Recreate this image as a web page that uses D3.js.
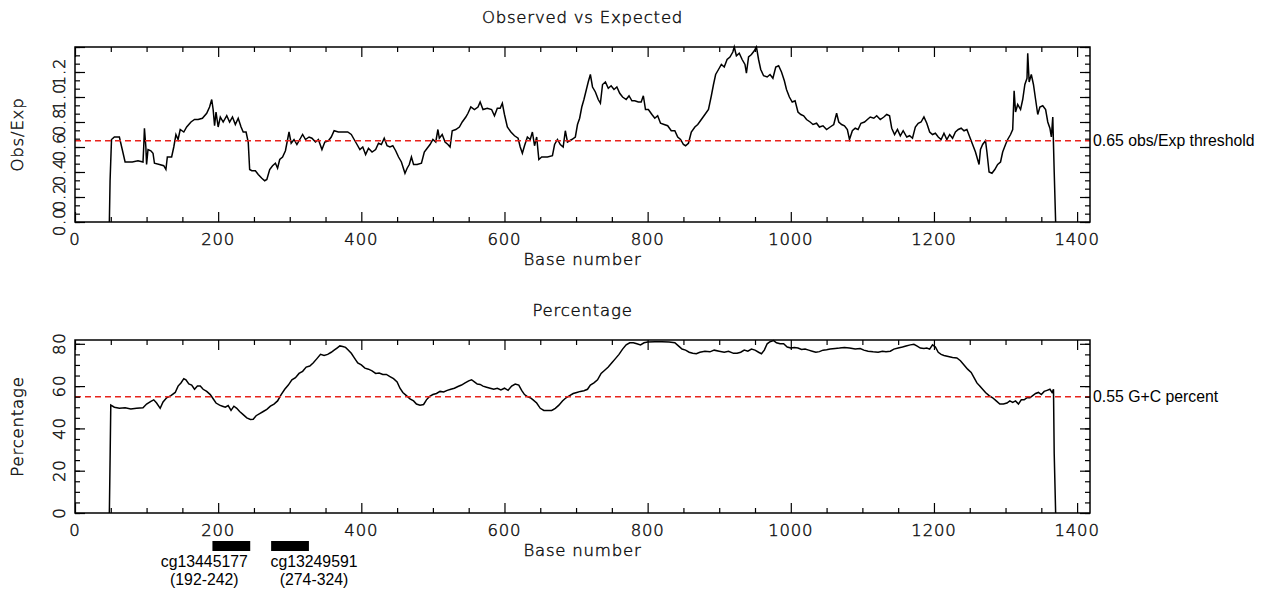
<!DOCTYPE html>
<html><head><meta charset="utf-8">
<script src="https://cdn.jsdelivr.net/npm/d3@7"></script>
<style>
html,body{margin:0;padding:0;background:#fff;}
svg{display:block;}
.idl{font-family:"DejaVu Sans",sans-serif;font-size:16.5px;letter-spacing:0.8px;fill:#111;stroke:#111;stroke-width:0.45px;font-weight:200;}
.ann{font-family:"Liberation Sans",Arial,sans-serif;font-size:15.8px;fill:#000;}
</style>
</head><body>
<script>
// ---------- data ----------
const xTickValues = [0,200,400,600,800,1000,1200,1400];
const xTickLabels = ["0","200","400","600","800","1000","1200","1400"];
const oeTickValues = [0,0.2,0.4,0.6,0.8,1.0,1.2];
const oeTickLabels = ["0.0","0.2","0.4","0.6","0.8","1.0","1.2"];
const gcTickValues = [0,20,40,60,80];
const gcTickLabels = ["0","20","40","60","80"];

const oeThreshold = 0.65;
const gcThreshold = 55;
const oeThresholdLabel = "0.65 obs/Exp threshold";
const gcThresholdLabel = "0.55 G+C percent";

const probeNames = ["cg13445177","cg13249591"];
const probeStart = [192,274];
const probeEnd = [242,324];

const oeBase = [48,49,51,55,62,66,70,80,88,95,96,97,99,100,102,106,109,111,118,124,127,129,135,138,141,144,147,152,156,162,167,172,178,184,188,191,193,195,197,200,203,207,212,216,220,224,228,232,235,239,242,244,247,252,256,261,265,268,272,276,280,283,286,290,294,297,299,302,306,310,314,318,322,327,331,336,340,345,349,354,358,362,368,375,381,386,390,394,398,402,406,410,415,420,424,428,432,436,440,444,448,452,456,461,464,467,470,473,478,484,488,492,496,500,504,507,509,513,517,521,524,527,532,537,541,546,549,553,558,563,566,570,576,582,586,590,594,597,600,604,609,614,619,622,625,628,632,636,639,642,645,648,652,660,667,670,674,678,682,685,688,694,699,702,705,708,711,714,717,720,723,727,731,734,737,741,745,749,753,757,761,765,770,774,778,782,787,791,794,797,801,806,810,814,818,823,828,833,838,842,846,850,853,857,861,866,870,875,880,885,889,892,895,899,903,907,911,915,919,921,924,928,932,936,938,941,945,949,952,955,958,962,967,971,975,979,983,987,991,994,998,1002,1006,1010,1014,1018,1022,1027,1031,1036,1040,1045,1050,1055,1060,1064,1067,1071,1075,1079,1082,1086,1090,1094,1098,1103,1107,1111,1116,1120,1125,1130,1134,1138,1141,1145,1149,1153,1157,1162,1166,1170,1174,1178,1182,1186,1190,1194,1198,1202,1206,1210,1214,1218,1222,1226,1230,1234,1238,1242,1246,1250,1254,1258,1261,1263,1265,1268,1272,1274,1277,1281,1285,1289,1293,1296,1300,1303,1307,1310,1312,1314,1317,1321,1324,1327,1330,1331,1333,1336,1339,1342,1345,1348,1352,1356,1359,1362,1364,1366,1368,1370];
const oeValue = [0,0.33,0.66,0.68,0.68,0.58,0.48,0.48,0.49,0.48,0.60,0.75,0.60,0.46,0.58,0.57,0.55,0.47,0.46,0.45,0.42,0.52,0.52,0.60,0.70,0.66,0.74,0.72,0.76,0.80,0.82,0.82,0.83,0.87,0.92,0.98,0.90,0.77,0.88,0.76,0.84,0.80,0.85,0.80,0.84,0.78,0.83,0.76,0.72,0.72,0.64,0.42,0.41,0.41,0.38,0.35,0.33,0.34,0.42,0.45,0.47,0.43,0.50,0.52,0.57,0.66,0.72,0.63,0.66,0.62,0.66,0.70,0.66,0.68,0.67,0.64,0.66,0.58,0.64,0.65,0.68,0.73,0.72,0.72,0.72,0.70,0.66,0.62,0.58,0.60,0.54,0.59,0.56,0.58,0.63,0.62,0.67,0.61,0.60,0.61,0.57,0.52,0.48,0.39,0.43,0.46,0.52,0.46,0.46,0.47,0.56,0.59,0.62,0.66,0.64,0.74,0.67,0.70,0.64,0.62,0.60,0.73,0.74,0.76,0.80,0.84,0.87,0.92,0.90,0.92,0.96,0.90,0.91,0.90,0.85,0.91,0.91,0.95,0.86,0.76,0.72,0.69,0.67,0.60,0.55,0.61,0.68,0.66,0.72,0.61,0.68,0.50,0.52,0.52,0.53,0.62,0.66,0.62,0.60,0.73,0.64,0.66,0.68,0.78,0.83,0.92,0.98,1.05,1.12,1.18,1.08,1.04,0.98,0.95,1.10,1.12,1.07,1.09,1.06,1.08,1.03,1.00,0.98,1.01,0.97,0.97,0.96,0.96,1.01,0.90,0.90,0.86,0.83,0.85,0.79,0.78,0.77,0.73,0.73,0.68,0.66,0.62,0.61,0.63,0.72,0.76,0.78,0.82,0.86,0.90,1.01,1.10,1.18,1.22,1.26,1.24,1.30,1.32,1.36,1.40,1.33,1.35,1.30,1.26,1.19,1.32,1.34,1.37,1.40,1.30,1.22,1.17,1.16,1.18,1.15,1.24,1.25,1.20,1.13,1.06,1.00,0.96,0.97,0.88,0.86,0.85,0.82,0.80,0.78,0.79,0.76,0.77,0.74,0.76,0.78,0.87,0.80,0.78,0.77,0.74,0.66,0.73,0.75,0.74,0.79,0.80,0.82,0.84,0.83,0.85,0.82,0.84,0.86,0.85,0.75,0.70,0.74,0.69,0.73,0.68,0.69,0.67,0.76,0.79,0.80,0.84,0.79,0.72,0.70,0.71,0.68,0.66,0.71,0.66,0.70,0.67,0.72,0.74,0.75,0.73,0.74,0.68,0.62,0.56,0.50,0.46,0.58,0.62,0.65,0.56,0.40,0.39,0.42,0.46,0.48,0.56,0.62,0.66,0.70,0.74,1.05,0.88,0.94,0.90,0.98,1.10,1.15,1.35,1.12,1.18,1.10,0.98,0.86,0.92,0.93,0.90,0.80,0.75,0.68,0.84,0.40,0.0];

const gcBase = [48,49,50,55,62,70,78,86,95,100,106,110,114,119,123,128,134,140,144,148,152,155,159,163,167,171,175,179,184,189,193,197,202,206,210,214,218,222,226,230,235,240,245,249,253,258,263,268,273,278,283,288,293,298,303,308,313,318,323,328,333,338,343,348,353,358,362,366,370,374,378,382,386,390,395,400,405,410,415,420,425,430,435,440,445,450,454,458,463,468,473,477,482,487,491,495,500,505,510,515,520,525,530,535,540,545,550,554,558,562,566,570,575,580,585,590,595,600,605,610,615,620,624,628,632,636,640,645,650,655,660,666,671,676,681,686,691,696,701,706,711,716,720,725,730,735,740,745,750,755,760,765,770,775,780,785,790,795,800,810,820,830,838,843,848,853,858,863,868,873,880,887,893,900,907,913,920,925,930,935,940,945,950,955,959,963,967,971,976,980,985,990,995,1000,1005,1010,1015,1020,1025,1030,1035,1040,1045,1050,1055,1062,1068,1075,1082,1090,1097,1102,1108,1115,1122,1128,1133,1139,1144,1150,1156,1161,1167,1172,1176,1181,1186,1190,1194,1198,1202,1206,1210,1214,1220,1226,1232,1237,1242,1247,1252,1256,1260,1264,1268,1272,1277,1282,1287,1292,1297,1302,1306,1310,1314,1318,1322,1326,1330,1334,1338,1342,1346,1350,1354,1358,1362,1365,1367,1368,1370];
const gcValue = [0,25,51,50,49.5,49.8,49.2,49.5,49.8,51.5,52.8,53.5,52,49.5,52.5,54.5,55.5,57,60,61.5,63.5,63,61,60.5,58.5,60,60,58.5,57.5,56,54,52,51,50.5,50,50.8,48.5,50.5,49.5,48,46.5,45,44.2,44.3,46,47,48,49,50.5,51.5,53,56,58.5,60.5,63,64,66,67,69,69.5,71,73,75,74.5,75,76,77,78,79,78.7,78.3,77,75.5,73.5,71,70,68.5,68,67.2,66,66.2,65.5,65.5,64.5,63.5,62,59,57,55.5,54,53,51.5,51,51.3,53.5,55,56,56.5,57.5,57.2,58,58.5,59,59.8,60.5,61.5,62.5,63,62,61,60.8,60,59.5,59,58.5,59,58.2,59,58,60,61,60.5,58,56,55,54.5,53.5,52,49.5,48.5,48.5,48.5,49.5,51,53,54.5,55.5,56.5,57,57.5,57.8,58.5,60.5,61.5,63,66,67.5,69,71,73,75,77.5,79.5,80.5,80.5,80,79.5,80.5,80.8,81,81,80.8,80.5,79,77.5,77,76,75.5,75.3,76,76.5,76.2,77,76.5,76,76.5,75.5,75.5,76,77,76.5,77.5,77,76,75.3,77,80,81,81.5,80.5,80,80,78.5,78,78.2,78,77.3,77.5,77,76.5,76,76.3,77,77.2,77.5,77.8,78,78.3,78,77.5,77.8,77,76.5,76.2,76,76.5,76.2,76.5,77.5,78,78.5,79,79.5,79.8,79,78,77.8,78,77.5,79.5,78.5,76,75,74.5,74,73.5,73.3,72,70,68,66.5,64,61.5,60,58.5,57,55.5,54.5,53,51.5,51.5,52,53,52.3,53,51.5,53.5,53.5,54.5,54.5,55.5,56.5,57,56,57.5,58,58.5,57,58.5,28,0];

// ---------- layout ----------
const W = 1269, H = 591;
const L = 75, R = 1090;
const panels = [
  {top:47, bottom:222, title:"Observed vs Expected", ytitle:"Obs/Exp",
   base:oeBase, value:oeValue, domain:[0,1.4], ticks:oeTickValues, labels:oeTickLabels,
   minorStep:0.2/3, perMajor:3, thr:oeThreshold, thrLabel:oeThresholdLabel},
  {top:340, bottom:513, title:"Percentage", ytitle:"Percentage",
   base:gcBase, value:gcValue, domain:[0,81.8], ticks:gcTickValues, labels:gcTickLabels,
   minorStep:5, perMajor:4, thr:gcThreshold, thrLabel:gcThresholdLabel}
];

const svg = d3.select("body").append("svg").attr("width",W).attr("height",H);
svg.append("rect").attr("width",W).attr("height",H).attr("fill","#fff");

const x = d3.scaleLinear().domain([0,1418]).range([L,R]);
const xMinor = d3.range(0,1419,50).filter(v => v % 200 !== 0);

panels.forEach(p => {
  const y = d3.scaleLinear().domain(p.domain).range([p.bottom,p.top]);
  const g = svg.append("g");

  const pts = p.base.map((b,i)=>[b,p.value[i]]);
  g.append("path").datum(pts)
    .attr("fill","none").attr("stroke","#000").attr("stroke-width",1.5)
    .attr("stroke-linejoin","miter")
    .attr("d", d3.line().x(d=>x(d[0])).y(d=>y(d[1])));

  g.append("line").attr("x1",L).attr("x2",R).attr("y1",y(p.thr)).attr("y2",y(p.thr))
    .attr("stroke","#e8231c").attr("stroke-width",1.4).attr("stroke-dasharray","6,4");
  g.append("text").attr("class","ann").attr("x",R+3).attr("y",y(p.thr)).attr("dy","0.36em")
    .text(p.thrLabel);

  const style = sel => { sel.select(".domain").remove(); sel.selectAll("line").attr("stroke","#000").attr("stroke-width",1.2); };
  g.append("g").attr("transform",`translate(0,${p.bottom})`)
    .call(d3.axisBottom(x).tickValues(xTickValues).tickSize(-10).tickFormat(()=>"")).call(style);
  g.append("g").attr("transform",`translate(0,${p.bottom})`)
    .call(d3.axisBottom(x).tickValues(xMinor).tickSize(-5).tickFormat(()=>"")).call(style);
  g.append("g").attr("transform",`translate(0,${p.top})`)
    .call(d3.axisTop(x).tickValues(xTickValues).tickSize(-10).tickFormat(()=>"")).call(style);
  g.append("g").attr("transform",`translate(0,${p.top})`)
    .call(d3.axisTop(x).tickValues(xMinor).tickSize(-5).tickFormat(()=>"")).call(style);

  const yMajor = d3.range(p.domain[0], p.domain[1]+1e-9, p.minorStep*p.perMajor);
  const yMinorVals = d3.range(p.domain[0], p.domain[1]+1e-9, p.minorStep);
  g.append("g").attr("transform",`translate(${L},0)`)
    .call(d3.axisLeft(y).tickValues(yMajor).tickSize(-10).tickFormat(()=>"")).call(style);
  g.append("g").attr("transform",`translate(${L},0)`)
    .call(d3.axisLeft(y).tickValues(yMinorVals).tickSize(-5).tickFormat(()=>"")).call(style);
  g.append("g").attr("transform",`translate(${R},0)`)
    .call(d3.axisRight(y).tickValues(yMajor).tickSize(-10).tickFormat(()=>"")).call(style);
  g.append("g").attr("transform",`translate(${R},0)`)
    .call(d3.axisRight(y).tickValues(yMinorVals).tickSize(-5).tickFormat(()=>"")).call(style);

  g.append("rect").attr("x",L).attr("y",p.top).attr("width",R-L).attr("height",p.bottom-p.top)
    .attr("fill","none").attr("stroke","#000").attr("stroke-width",1.5);

  g.selectAll(".xl").data(xTickValues).enter().append("text").attr("class","idl")
    .attr("x",d=>x(d)).attr("y",p.bottom+23).attr("text-anchor","middle")
    .text((d,i)=>xTickLabels[i]);
  g.selectAll(".yl").data(p.ticks).enter().append("text").attr("class","idl")
    .attr("transform",d=>`translate(${L-10},${y(d)}) rotate(-90)`).attr("text-anchor","middle")
    .text((d,i)=>p.labels[i]);
  g.append("text").attr("class","idl").attr("x",(L+R)/2).attr("y",p.top-24).attr("text-anchor","middle").text(p.title);
  g.append("text").attr("class","idl").attr("x",(L+R)/2).attr("y",p.bottom+43).attr("text-anchor","middle").text("Base number");
  g.append("text").attr("class","idl")
    .attr("transform",`translate(23,${(p.top+p.bottom)/2}) rotate(-90)`).attr("text-anchor","middle").text(p.ytitle);
});

const labelShift = [-26, 25];
probeNames.forEach((name,i)=>{
  const x0 = x(probeStart[i]), x1 = x(probeEnd[i]);
  svg.append("rect").attr("x",x0).attr("y",541).attr("width",x1-x0+2).attr("height",10).attr("fill","#000");
  const cx = (x0+x1)/2 + labelShift[i];
  svg.append("text").attr("class","ann").attr("x",cx).attr("y",567).attr("text-anchor","middle").text(name);
  svg.append("text").attr("class","ann").attr("x",cx).attr("y",585).attr("text-anchor","middle")
    .text(`(${probeStart[i]}-${probeEnd[i]})`);
});
</script>
</body></html>
